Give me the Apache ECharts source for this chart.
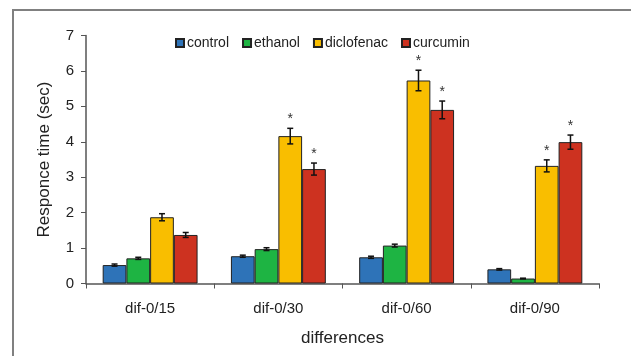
<!DOCTYPE html>
<html><head><meta charset="utf-8">
<script src="https://cdn.jsdelivr.net/npm/echarts@6/dist/echarts.min.js"></script>
<style>html,body{margin:0;padding:0;background:#fff}#c{width:631px;height:356px}</style>
</head><body><div id="c"></div>
<script>
var categories = ['dif-0/15', 'dif-0/30', 'dif-0/60', 'dif-0/90'];
var seriesNames = ['control', 'ethanol', 'diclofenac', 'curcumin'];
var control = [0.52, 0.77, 0.74, 0.40];
var ethanol = [0.71, 0.97, 1.07, 0.14];
var diclofenac = [1.87, 4.16, 5.73, 3.32];
var curcumin = [1.37, 3.23, 4.90, 3.99];
var controlErr = [0.03, 0.03, 0.03, 0.02];
var ethanolErr = [0.03, 0.04, 0.04, 0.01];
var diclofenacErr = [0.10, 0.22, 0.29, 0.17];
var curcuminErr = [0.07, 0.17, 0.25, 0.20];
var controlSig = [0, 0, 0, 0];
var ethanolSig = [0, 0, 0, 0];
var diclofenacSig = [0, 1, 1, 1];
var curcuminSig = [0, 1, 1, 1];
var yTicks = [0, 1, 2, 3, 4, 5, 6, 7];

var values = [control, ethanol, diclofenac, curcumin];
var errs = [controlErr, ethanolErr, diclofenacErr, curcuminErr];
var sigs = [controlSig, ethanolSig, diclofenacSig, curcuminSig];
var colors = ['#2E73B8', '#1EB443', '#F9BE00', '#CD3220'];
var FONT = 'Liberation Sans, Arial, sans-serif';
var CAT_GAP = 0.26;

var series = [];
seriesNames.forEach(function (name, i) {
  series.push({
    name: name, type: 'bar', data: values[i],
    barGap: '0%', barCategoryGap: (CAT_GAP * 100) + '%',
    itemStyle: { color: colors[i], borderColor: '#222', borderWidth: 1 },
    emphasis: { disabled: true }
  });
});
seriesNames.forEach(function (name, i) {
  series.push({
    type: 'custom', name: name + '-err', silent: true, z: 5,
    data: values[i].map(function (v, k) { return [k, v, errs[i][k], sigs[i][k]]; }),
    encode: { x: 0, y: 1 },
    renderItem: function (params, api) {
      var k = api.value(0), v = api.value(1), e = api.value(2), s = api.value(3);
      var band = api.size([1, 0])[0];
      var bw = band * (1 - CAT_GAP) / 4;
      var c = api.coord([k, v]);
      var x = c[0] + (i - 1.5) * bw;
      var top = api.coord([k, v + e])[1];
      var bot = api.coord([k, v - e])[1];
      var cap = 3;
      var st = { stroke: '#111', lineWidth: 1.5 };
      var children = [
        { type: 'line', shape: { x1: x, y1: top, x2: x, y2: bot }, style: st },
        { type: 'line', shape: { x1: x - cap, y1: top, x2: x + cap, y2: top }, style: st },
        { type: 'line', shape: { x1: x - cap, y1: bot, x2: x + cap, y2: bot }, style: st }
      ];
      if (s) {
        children.push({ type: 'text', style: { text: '*', x: x, y: top - 2, textAlign: 'center', textVerticalAlign: 'bottom', fill: '#333', font: '14px ' + FONT } });
      }
      return { type: 'group', children: children };
    }
  });
});

var chart = echarts.init(document.getElementById('c'), null, { renderer: 'canvas' });
chart.setOption({
  animation: false,
  backgroundColor: '#fff',
  textStyle: { fontFamily: FONT },
  graphic: [{ type: 'rect', shape: { x: 13, y: 10, width: 700, height: 500 }, style: { fill: 'none', stroke: '#808080', lineWidth: 2 }, silent: true }],
  legend: {
    data: seriesNames, top: 31, left: 170, itemWidth: 8, itemHeight: 8, itemGap: 13,
    icon: 'rect', textStyle: { fontSize: 14, color: '#222', fontFamily: FONT, padding: [0, 0, 0, -2] }
  },
  grid: { left: 86, right: 32, top: 35.5, bottom: 72.5, containLabel: false },
  xAxis: {
    type: 'category', data: categories,
    name: 'differences', nameLocation: 'middle', nameGap: 46,
    nameTextStyle: { fontSize: 17, color: '#222', fontFamily: FONT },
    axisLine: { lineStyle: { color: '#555', width: 1.5 } },
    axisTick: { show: true, length: 5, lineStyle: { color: '#555' }, alignWithLabel: false },
    axisLabel: { fontSize: 15, color: '#222', margin: 18, fontFamily: FONT }
  },
  yAxis: {
    type: 'value', min: 0, max: 7, interval: 1,
    name: 'Responce time (sec)', nameLocation: 'middle', nameGap: 33,
    nameTextStyle: { fontSize: 17, color: '#222', fontFamily: FONT },
    axisLine: { show: true, lineStyle: { color: '#555', width: 1.5 } },
    axisTick: { show: true, length: 5, lineStyle: { color: '#555' } },
    splitLine: { show: false },
    axisLabel: { fontSize: 15, color: '#222', margin: 12, fontFamily: FONT,
      formatter: function (v) { return yTicks.indexOf(v) >= 0 ? String(v) : ''; } }
  },
  series: series
});
</script></body></html>
